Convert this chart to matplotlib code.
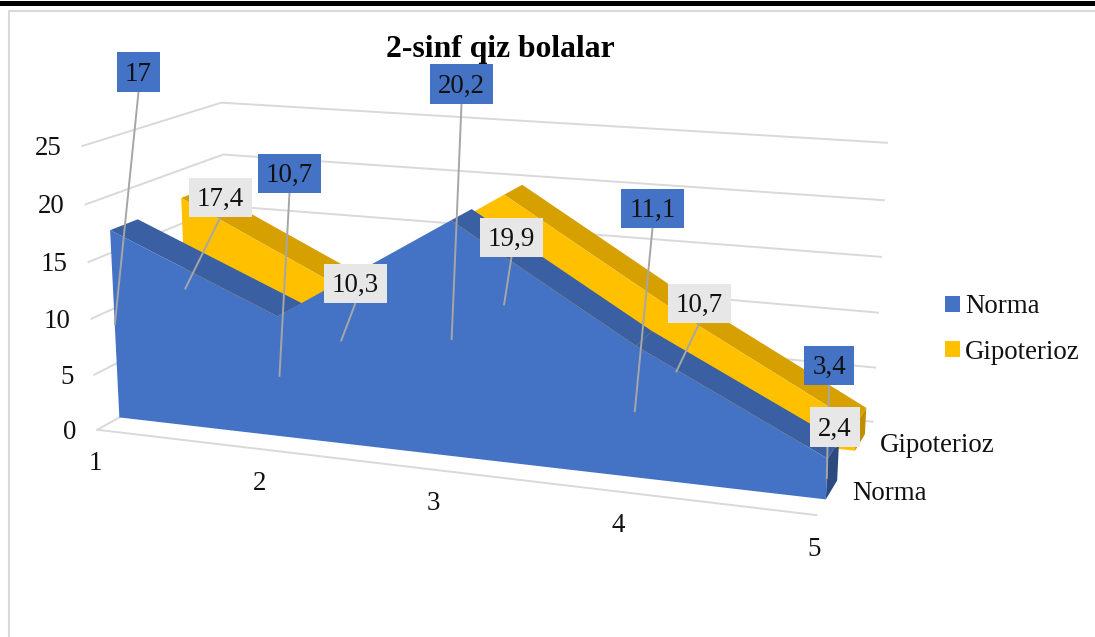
import numpy as np
import matplotlib
matplotlib.use("Agg")
import matplotlib.pyplot as plt
from matplotlib.patches import Patch, Rectangle

plt.rcParams['font.family'] = ['Liberation Serif', 'DejaVu Serif']

categories = ["1", "2", "3", "4", "5"]
norma = [17, 10.7, 20.2, 11.1, 3.4]
gipoterioz = [17.4, 10.3, 19.9, 10.7, 2.4]
norma_labels = ["17", "10,7", "20,2", "11,1", "3,4"]
gipoterioz_labels = ["17,4", "10,3", "19,9", "10,7", "2,4"]
y_ticks = [0, 5, 10, 15, 20, 25]

BLUE, BLUE_TOP, BLUE_SIDE = "#4472C4", "#3A5FA2", "#2C4A80"
YELLOW, YELLOW_TOP, YELLOW_SIDE = "#FFC000", "#D5A000", "#C08F00"
GRID = "#D9D9D9"
LEADER = "#A6A6A6"
LABEL_GRAY = "#E7E7E7"
FS = 19.4

# depth range of each series inside the floor (0 front, 1 back)
NORMA_DEPTH = (0.15, 0.34)
GIPO_DEPTH = (0.66, 0.85)

# label boxes: left, top, width, height in figure pixels
norma_boxes = [(117, 52, 43, 40), (258, 154, 63, 39), (430, 64, 63, 40), (621, 189, 63, 39), (804, 346, 50, 39)]
gipo_boxes = [(189, 178, 63, 39), (324, 264, 63, 39), (480, 218, 63, 39), (668, 284, 63, 39), (810, 407, 50, 40)]

# camera fit: plot box corners (x 0-1, depth 0-1, value 0-25) -> pixel position
cam_world = [(0, 0, 0), (0, 0, 5), (0, 0, 10), (0, 0, 15), (0, 0, 20), (0, 0, 25),
             (0, 1, 0), (0, 1, 15), (0, 1, 20), (0, 1, 25),
             (1, 1, 0), (1, 1, 5), (1, 1, 10), (1, 1, 15), (1, 1, 20), (1, 1, 25),
             (1, 0, 0)]
cam_pix = [(97, 428), (94, 374), (91, 318), (88, 263), (86, 205), (83, 147),
           (231, 358), (225, 205), (223, 154), (221, 102),
           (872, 421), (875, 367), (878, 313), (881, 257), (884, 200), (887, 143),
           (817, 516)]


def fit_camera(world, pix):
    A, b = [], []
    for (X, Y, Z), (u, v) in zip(world, pix):
        Z = Z / 25
        A.append([X, Y, Z, 1, 0, 0, 0, 0, -u * X, -u * Y, -u * Z])
        A.append([0, 0, 0, 0, X, Y, Z, 1, -v * X, -v * Y, -v * Z])
        b += [u, v]
    p = np.linalg.lstsq(np.array(A, float), np.array(b, float), rcond=None)[0]
    return np.append(p, 1).reshape(3, 4)


CAM = fit_camera(cam_world, cam_pix)


def project(X, Y, Z):
    h = CAM @ np.array([X, Y, Z / 25, 1.0])
    return h[0] / h[2], h[1] / h[2]


def draw_series(ax, values, depth, front, top, side, z):
    yf, yb = depth
    xs = np.linspace(0, 1, len(values))
    for i in range(len(values) - 1):
        quad = [project(xs[i], yf, values[i]), project(xs[i + 1], yf, values[i + 1]),
                project(xs[i + 1], yb, values[i + 1]), project(xs[i], yb, values[i])]
        ax.fill(*zip(*quad), color=top, lw=0, zorder=z)
    quad = [project(1, yf, 0), project(1, yb, 0), project(1, yb, values[-1]), project(1, yf, values[-1])]
    ax.fill(*zip(*quad), color=side, lw=0, zorder=z)
    poly = [project(x, yf, v) for x, v in zip(xs, values)] + [project(1, yf, 0), project(0, yf, 0)]
    ax.fill(*zip(*poly), color=front, lw=0, zorder=z + 0.5)


def draw_labels(ax, values, depth, texts, boxes, color):
    xs = np.linspace(0, 1, len(values))
    for x, v, t, (l, tp, w, h) in zip(xs, values, texts, boxes):
        end = project(x, depth[0], v / 2)
        ax.plot([l + w / 2, end[0]], [tp + h, end[1]], color=LEADER, lw=1.4, zorder=6, solid_capstyle='butt')
        ax.add_patch(Rectangle((l, tp), w, h, facecolor=color, edgecolor='none', zorder=7))
        ax.text(l + w / 2, tp + h - 11, t, fontsize=FS, ha='center', va='baseline', color='#111111', zorder=8)


fig = plt.figure(figsize=(10.95, 6.37), dpi=100)
ax = fig.add_axes([0, 0, 1, 1])
ax.set_xlim(0, 1095)
ax.set_ylim(637, 0)
ax.axis('off')

# page rule and chart frame
ax.add_patch(Rectangle((0, 1), 1095, 5, facecolor='black', edgecolor='none'))
ax.plot([1095, 9, 9], [11, 11, 637], color=GRID, lw=1.5)

# walls and floor
for t in y_ticks:
    pts = [project(0, 0, t), project(0, 1, t), project(1, 1, t)]
    ax.plot(*zip(*pts), color=GRID, lw=1.4, zorder=1)
    ax.text(pts[0][0] - 21, pts[0][1] + 2.5, str(t), ha='right', va='center', fontsize=FS, color='#111111')
ax.plot(*zip(project(0, 0, 0), project(1, 0, 0)), color=GRID, lw=1.4, zorder=1)

for x, c in zip(np.linspace(0, 1, len(categories)), categories):
    px = project(x, 0, 0)
    ax.text(px[0] - 2, px[1] + 34, c, fontsize=FS, ha='center', va='center', color='#111111')

draw_series(ax, gipoterioz, GIPO_DEPTH, YELLOW, YELLOW_TOP, YELLOW_SIDE, 2)
draw_series(ax, norma, NORMA_DEPTH, BLUE, BLUE_TOP, BLUE_SIDE, 4)

draw_labels(ax, norma, NORMA_DEPTH, norma_labels, norma_boxes, BLUE)
draw_labels(ax, gipoterioz, GIPO_DEPTH, gipoterioz_labels, gipo_boxes, LABEL_GRAY)

ax.text(852, 493, "Norma", fontsize=FS, ha='left', va='center', color='#111111')
ax.text(880, 445, "Gipoterioz", fontsize=FS, ha='left', va='center', color='#111111')
ax.text(500, 49, "2-sinf qiz bolalar", fontsize=22.8, fontweight='bold', ha='center', va='center', color='black')

handles = [Patch(facecolor=BLUE, label="Norma"), Patch(facecolor=YELLOW, label="Gipoterioz")]
ax.legend(handles=handles, loc='center left', bbox_to_anchor=(921 / 1095, 1 - 329.5 / 637), frameon=False,
          fontsize=FS, handlelength=0.53, handleheight=0.53, handletextpad=0.2, labelspacing=0.76,
          labelcolor='#111111')

fig.savefig("out.png", dpi=100)
